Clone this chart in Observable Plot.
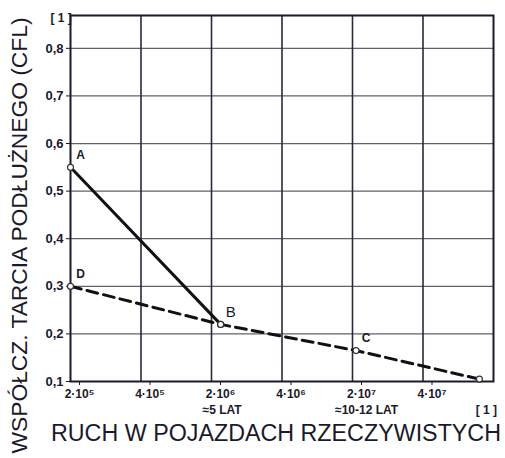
<!DOCTYPE html>
<html>
<head>
<meta charset="utf-8">
<script src="https://cdn.jsdelivr.net/npm/d3@7"></script>
<script src="https://cdn.jsdelivr.net/npm/@observablehq/plot@0.6"></script>
<style>
  html, body { margin: 0; padding: 0; background: #fff; }
  #chart svg { display: block; }
</style>
</head>
<body>
<div id="chart"></div>
<script>
// X axis: equally spaced (non-linear) traffic positions
const xTickPos = [0, 1, 2, 3, 4, 5];
const xTickLabels = ["2·10⁵", "4·10⁵", "2·10⁶", "4·10⁶", "2·10⁷", "4·10⁷"];
const xGrid = [1, 2, 3, 4, 5];
const yTicks = [0.1, 0.2, 0.3, 0.4, 0.5, 0.6, 0.7, 0.8];

// Solid curve A -> B
const solidX = [0, 2.13];
const solidY = [0.55, 0.22];
// Dashed curve D -> B -> C -> end
const dashX = [0, 2.13, 4.05, 5.8];
const dashY = [0.30, 0.22, 0.165, 0.105];

// Point letters
const pointNames = ["A", "B", "C", "D"];
const pointX = [0, 2.13, 4.05, 0];
const pointY = [0.55, 0.22, 0.165, 0.30];

// Secondary x annotations
const noteX = [2.15, 4.2, 5.9];
const noteText = ["≈5 LAT", "≈10-12 LAT", "[ 1 ]"];

const yLabel = "WSPÓŁCZ. TARCIA PODŁUŻNEGO (CFL)";
const xLabel = "RUCH W POJAZDACH RZECZYWISTYCH";
const yUnit = "[ 1 ]";

const solid = solidX.map((x, i) => ({x, y: solidY[i]}));
const dashed = dashX.map((x, i) => ({x, y: dashY[i]}));
const pts = pointNames.map((n, i) => ({n, x: pointX[i], y: pointY[i]}));
const markers = [...solid, ...dashed];
const notes = noteText.map((t, i) => ({t, x: noteX[i]}));

const font = "'Liberation Sans', Arial, sans-serif";
const ink = "#1a1a2a";

const chart = Plot.plot({
  width: 505,
  height: 458,
  marginLeft: 70,
  marginRight: 12,
  marginTop: 15,
  marginBottom: 77,
  style: {fontFamily: font, color: ink, background: "#fff"},
  x: {domain: [0, 6], axis: null},
  y: {domain: [0.1, 0.869], axis: null},
  marks: [
    Plot.ruleY(yTicks.slice(1), {stroke: "#3a3a4a", strokeWidth: 1.2, strokeOpacity: 0.8}),
    Plot.ruleX(xGrid, {stroke: "#2a2a3a", strokeWidth: 1.6}),
    Plot.frame({stroke: ink, strokeWidth: 2}),
    Plot.axisY({
      ticks: yTicks, tickSize: 4, tickPadding: 3, stroke: ink,
      tickFormat: d => d.toFixed(1).replace(".", ","),
      fontSize: 13, fontWeight: 700, label: null
    }),
    Plot.axisX({
      ticks: xTickPos, tickSize: 4, tickPadding: 4, dx: 9, stroke: ink,
      tickFormat: d => xTickLabels[d], fontSize: 12, fontWeight: 600, label: null
    }),
    Plot.line(solid, {x: "x", y: "y", stroke: "#111", strokeWidth: 3}),
    Plot.line(dashed, {x: "x", y: "y", stroke: "#111", strokeWidth: 3, strokeDasharray: "11,6"}),
    Plot.dot(markers, {x: "x", y: "y", r: 3, stroke: "#333", fill: "#fff", strokeWidth: 1.2}),
    Plot.text(pts.filter(d => d.n !== "B"), {x: "x", y: "y", text: "n", dx: 10, dy: -12, fontSize: 12, fontWeight: 700, fill: ink}),
    Plot.text(pts.filter(d => d.n === "B"), {x: "x", y: "y", text: "n", dx: 10, dy: -12, fontSize: 15, fill: ink}),
    Plot.text(notes, {x: "x", text: "t", frameAnchor: "bottom", dy: 32, fontSize: 12, fontWeight: 700, fill: ink}),
    Plot.text([xLabel], {frameAnchor: "bottom", dx: -6, dy: 59, fontSize: 23, fontWeight: 500, fill: ink}),
    Plot.text([yLabel], {frameAnchor: "left", textAnchor: "middle", dx: -51, dy: 37, rotate: -90, fontSize: 22, fontWeight: 500, fill: ink}),
    Plot.text([yUnit], {frameAnchor: "top-left", dx: -20, dy: -2, fontSize: 12, fontWeight: 700, fill: ink})
  ]
});
document.getElementById("chart").append(chart);
// Condense the two long axis titles to the lengths they occupy in the reference
d3.select(chart).selectAll("text").each(function() {
  const t = this.textContent || "";
  const sel = d3.select(this);
  if (t.includes("WSP")) sel.attr("textLength", 436).attr("lengthAdjust", "spacingAndGlyphs");
  if (t.includes("RUCH")) sel.attr("textLength", 450).attr("lengthAdjust", "spacingAndGlyphs");
});
</script>
</body>
</html>
